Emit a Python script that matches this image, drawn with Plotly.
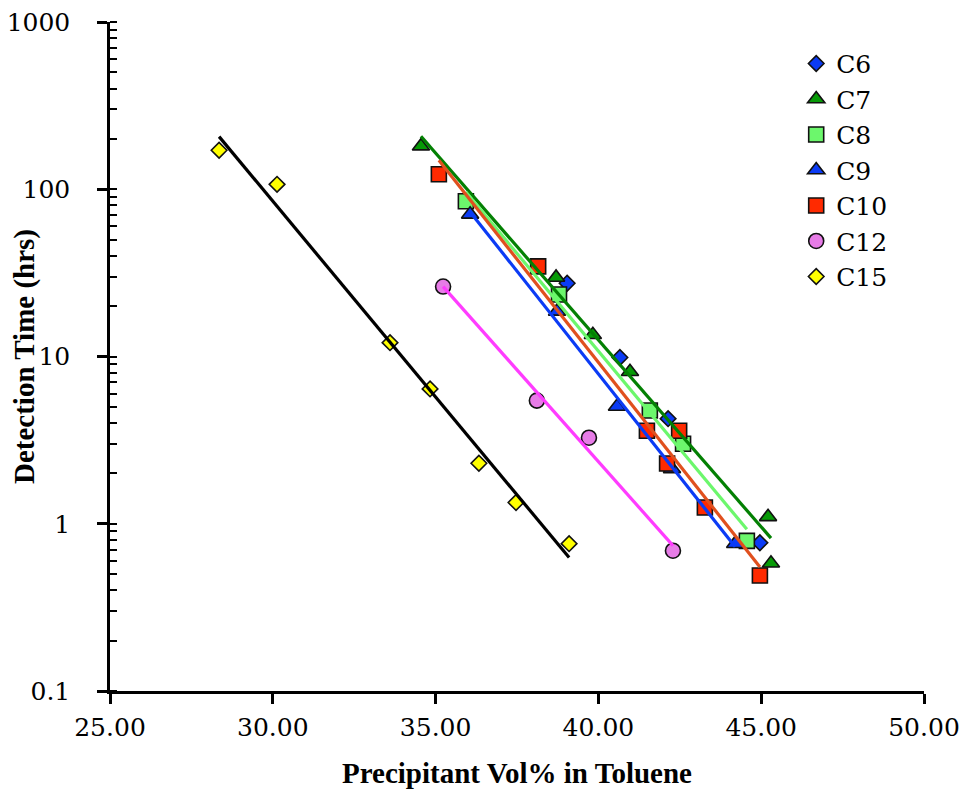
import numpy as np
import plotly.graph_objects as go

# Precipitant volume % in toluene and detection time (hrs) per n-alkane precipitant
c6_x = [39.04, 40.66, 42.14, 44.96]
c6_y = [27.4, 9.86, 4.25, 0.77]

c7_x = [34.55, 38.70, 39.83, 40.97, 45.21, 45.30]
c7_y = [181, 29.7, 13.5, 8.1, 1.10, 0.58]

c8_x = [35.93, 38.79, 41.58, 42.60, 44.56]
c8_y = [84.8, 23.5, 4.75, 3.01, 0.79]

c9_x = [36.06, 38.73, 40.57, 42.26, 44.20]
c9_y = [70.8, 18.6, 5.02, 2.13, 0.76]

c10_x = [35.10, 38.15, 41.49, 42.48, 42.11, 43.27, 44.96]
c10_y = [123, 34.6, 3.60, 3.60, 2.29, 1.25, 0.49]

c12_x = [35.23, 38.11, 39.71, 42.29]
c12_y = [26.2, 5.45, 3.27, 0.69]

c15_x = [28.35, 30.13, 33.60, 34.83, 36.33, 37.47, 39.10]
c15_y = [171, 107, 12.1, 6.4, 2.3, 1.34, 0.76]

x_ticks = [25, 30, 35, 40, 45, 50]
x_tick_text = ["25.00", "30.00", "35.00", "40.00", "45.00", "50.00"]
y_ticks = [0.1, 1, 10, 100, 1000]
y_tick_text = ["0.1", "1", "10", "100", "1000"]

SERIF = "DejaVu Serif"
SERIF_BOLD = "Liberation Serif"

# name, x, y, symbol, size, fill, trendline colour (None = no trendline)
series = [
    ("C6", c6_x, c6_y, "diamond", 12, "#0B3BF5", None),
    ("C7", c7_x, c7_y, "triangle-up", 15, "#079A07", "#038003"),
    ("C8", c8_x, c8_y, "square", 15, "#6CF76C", "#6CF76C"),
    ("C9", c9_x, c9_y, "triangle-up", 15, "#0B3BF5", "#0B3BF5"),
    ("C10", c10_x, c10_y, "square", 15, "#FF2A00", "#E0501E"),
    ("C12", c12_x, c12_y, "circle", 15, "#E77CE7", "#FF3CFF"),
    ("C15", c15_x, c15_y, "diamond", 12, "#FFFF00", "#000000"),
]

fig = go.Figure()

for name, xs, ys, sym, size, fill, _ in series:
    fig.add_trace(go.Scatter(
        x=xs, y=ys, mode="markers", name=name,
        marker=dict(symbol=sym, size=size, color=fill,
                    line=dict(color="#111111", width=1.6)),
    ))

# exponential trendlines (linear fit of log10(y) against x) over each data range
for name, xs, ys, sym, size, fill, lc in series:
    if lc is None:
        continue
    xa = np.array(xs, dtype=float)
    slope, icpt = np.polyfit(xa, np.log10(ys), 1)
    xl = np.array([xa.min(), xa.max()])
    fig.add_trace(go.Scatter(
        x=xl, y=10 ** (slope * xl + icpt), mode="lines",
        line=dict(color=lc, width=3.2), showlegend=False, hoverinfo="skip",
    ))

title_font = dict(family=SERIF_BOLD, size=29, color="black")

fig.update_layout(
    width=963, height=792,
    margin=dict(l=110, r=39, t=22, b=101),
    paper_bgcolor="white", plot_bgcolor="white",
    font=dict(family=SERIF, color="black"),
    showlegend=True,
    legend=dict(
        x=0.843, y=0.972, xanchor="left", yanchor="top",
        font=dict(family=SERIF, size=25, color="black"),
        bgcolor="rgba(0,0,0,0)", tracegroupgap=0, itemwidth=30,
    ),
    annotations=[
        dict(text="<b>Detection Time (hrs)</b>", textangle=-90,
             xref="paper", yref="paper", x=-0.105, y=0.5,
             xanchor="center", yanchor="middle", showarrow=False,
             font=title_font),
        dict(text="<b>Precipitant Vol% in Toluene</b>",
             xref="paper", yref="paper", x=0.5, y=-0.1226,
             xanchor="center", yanchor="middle", showarrow=False,
             font=title_font),
    ],
)

fig.update_xaxes(
    range=[25, 50], tickvals=x_ticks, ticktext=x_tick_text,
    showline=True, linecolor="black", linewidth=2.5, mirror=False,
    ticks="outside", ticklen=10, tickwidth=2.5, tickcolor="black",
    ticklabelstandoff=2, automargin=False,
    tickfont=dict(family=SERIF, size=25, color="black"),
    showgrid=False, zeroline=False,
)

fig.update_yaxes(
    type="log", range=[-1, 3], tickvals=y_ticks, ticktext=y_tick_text,
    showline=True, linecolor="black", linewidth=2.5, mirror=False,
    ticks="outside", ticklen=10, tickwidth=2.5, tickcolor="black",
    ticklabelstandoff=22, automargin=False,
    tickfont=dict(family=SERIF, size=25, color="black"),
    minor=dict(ticks="inside", ticklen=7, tickwidth=2, tickcolor="black",
               dtick="D1", showgrid=False),
    showgrid=False, zeroline=False,
)

fig.write_html("out.html")
